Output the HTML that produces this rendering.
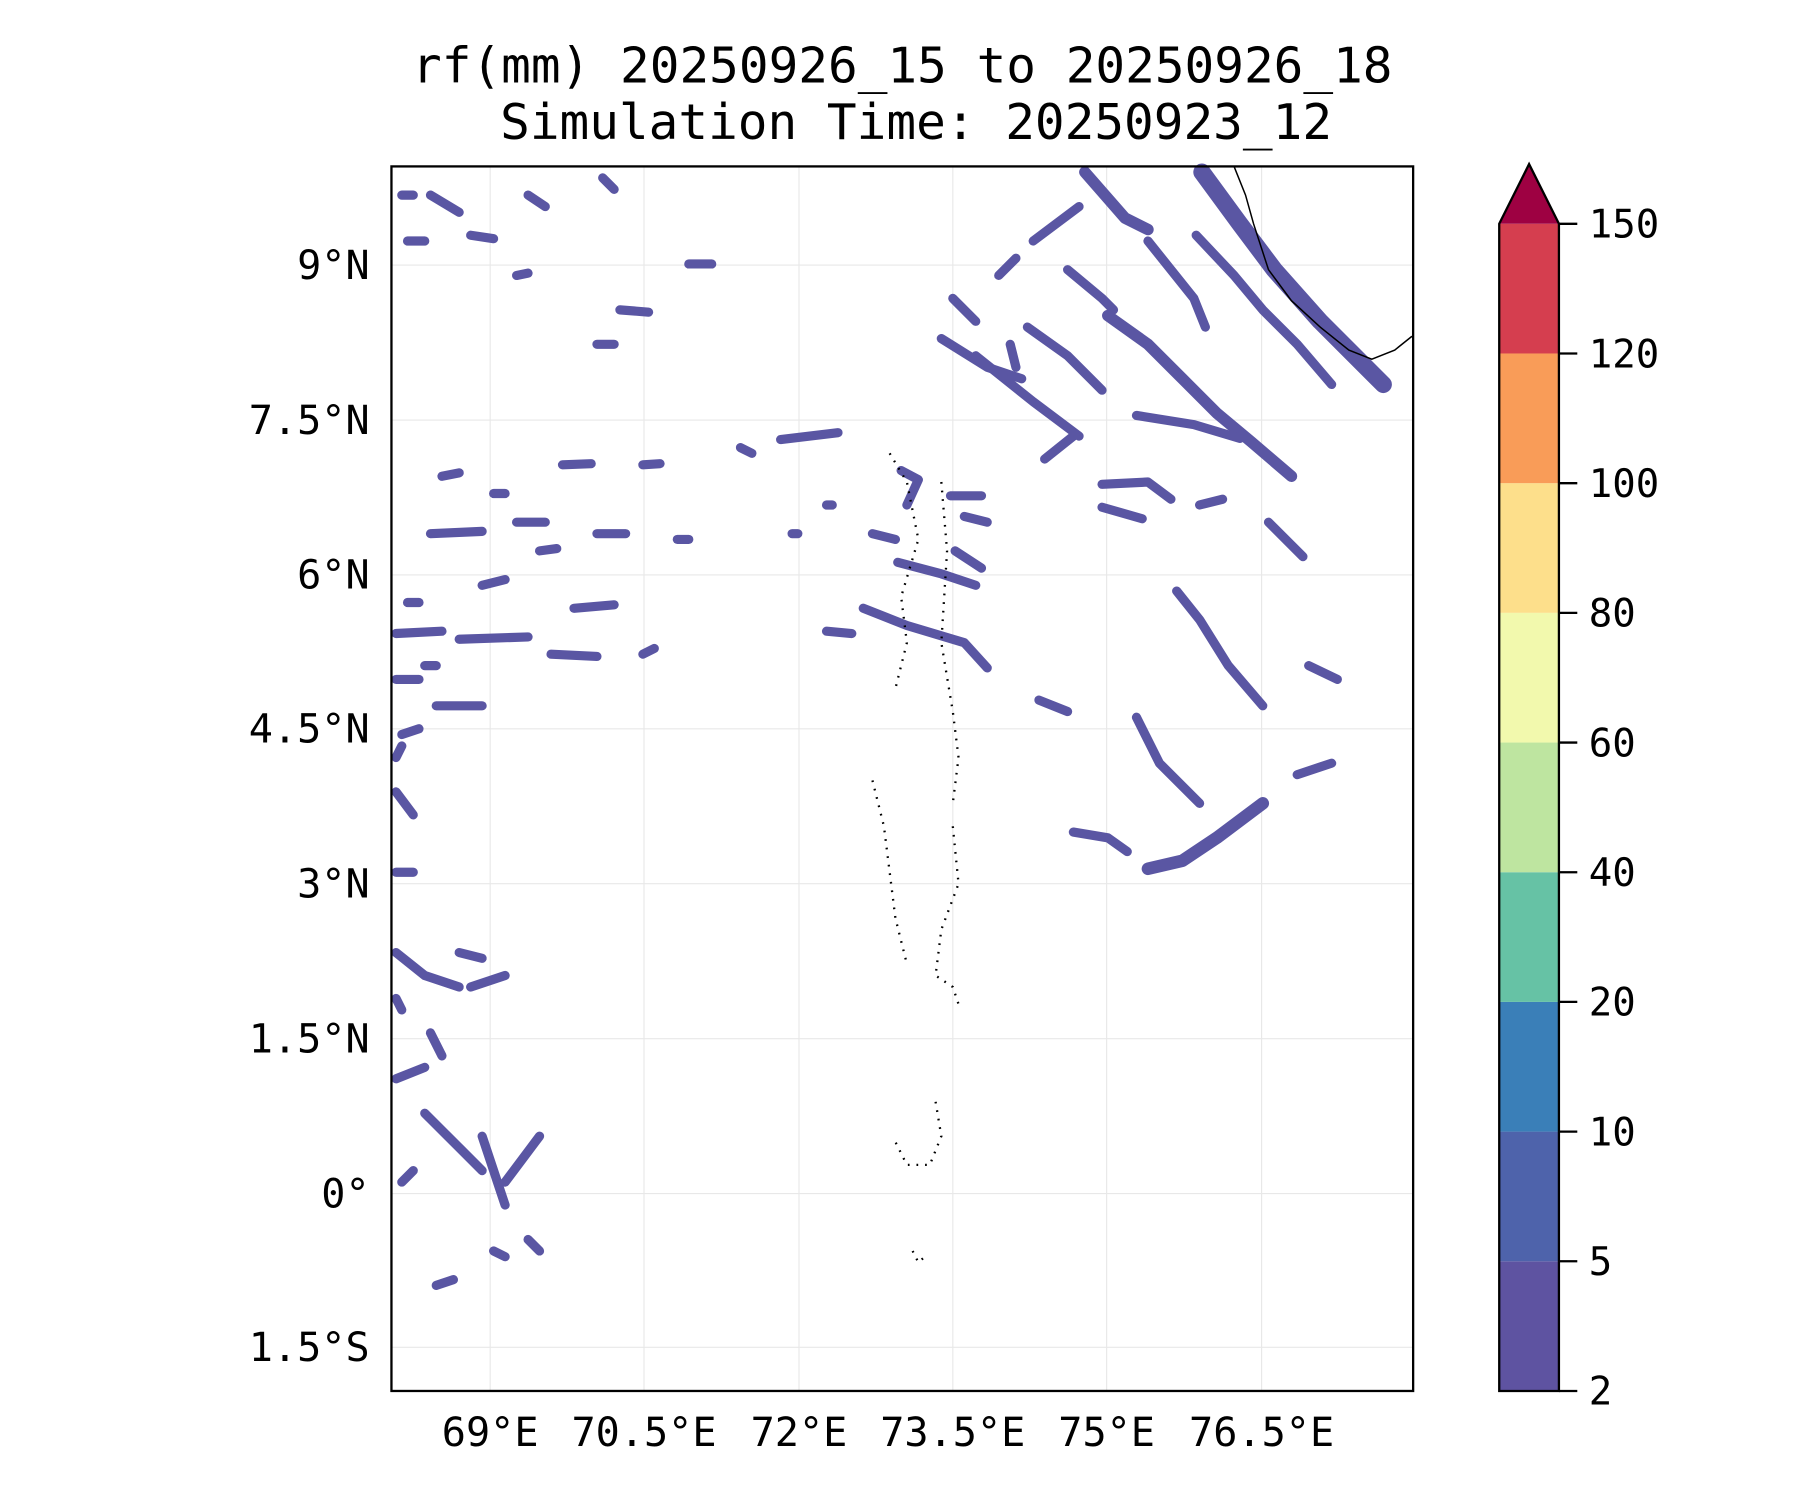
<!DOCTYPE html>
<html><head><meta charset="utf-8"><style>
html,body{margin:0;padding:0;background:#fff;}
svg{display:block}
text{font-family:"DejaVu Sans Mono","Liberation Mono",monospace;fill:#000}
</style></head><body>
<svg width="1800" height="1500" viewBox="0 0 1568 1307" preserveAspectRatio="none" xmlns="http://www.w3.org/2000/svg">
<rect width="1568" height="1307" fill="#fff"/>
<text x="786" y="72" font-size="43" text-anchor="middle">rf(mm) 20250926_15 to 20250926_18</text>
<text x="798" y="121" font-size="43" text-anchor="middle">Simulation Time: 20250923_12</text>
<g stroke="#e8e8e8" stroke-width="1">
<line x1="427" y1="145" x2="427" y2="1212"/><line x1="561" y1="145" x2="561" y2="1212"/>
<line x1="696" y1="145" x2="696" y2="1212"/><line x1="830" y1="145" x2="830" y2="1212"/>
<line x1="964" y1="145" x2="964" y2="1212"/><line x1="1099" y1="145" x2="1099" y2="1212"/>
<line x1="341" y1="231" x2="1231" y2="231"/><line x1="341" y1="366" x2="1231" y2="366"/>
<line x1="341" y1="501" x2="1231" y2="501"/><line x1="341" y1="635" x2="1231" y2="635"/>
<line x1="341" y1="770" x2="1231" y2="770"/><line x1="341" y1="905" x2="1231" y2="905"/>
<line x1="341" y1="1040" x2="1231" y2="1040"/><line x1="341" y1="1174" x2="1231" y2="1174"/>
</g>
<g fill="none" stroke="#5a56a3" stroke-linecap="round" stroke-linejoin="round" stroke-width="8">
<polyline points="945,150 980,190 1000,200" stroke-width="10"/>
<polyline points="1047,150 1080,195 1110,235 1150,280 1205,335" stroke-width="15"/>
<polyline points="1000,210 1040,260 1050,285"/>
<polyline points="1042,205 1075,240 1100,270 1130,300 1160,335"/>
<polyline points="930,235 960,260 970,270"/>
<polyline points="965,275 1000,300 1030,330 1060,360 1090,385 1125,415" stroke-width="10"/>
<polyline points="895,285 930,310 960,340"/>
<polyline points="830,260 850,280"/>
<polyline points="820,295 860,320 890,330"/>
<polyline points="850,310 900,350 940,380"/>
<polyline points="990,362 1040,370 1080,382"/>
<polyline points="960,422 1000,420 1020,435"/>
<polyline points="960,442 995,452"/>
<polyline points="782,490 820,500 850,510"/>
<polyline points="752,530 790,545 840,560 860,582"/>
<polyline points="720,550 742,552"/>
<polyline points="1025,515 1045,540 1070,580 1100,615"/>
<polyline points="990,625 1010,665 1045,700"/>
<polyline points="1000,757 1030,750 1060,730 1100,700" stroke-width="11"/>
<polyline points="935,725 965,730 982,742"/>
<polyline points="1140,580 1165,592"/>
<polyline points="1105,455 1135,485"/>
<polyline points="828,432 855,432"/>
<polyline points="832,480 855,495"/>
<polyline points="785,410 800,418 790,440"/>
<polyline points="900,210 940,180"/><polyline points="870,240 885,225"/><polyline points="910,400 935,380"/>
<polyline points="880,300 885,320"/><polyline points="905,610 930,620"/><polyline points="1130,675 1160,665"/>
<polyline points="1045,440 1065,435"/><polyline points="840,450 860,455"/>
<polyline points="345,552 385,550"/>
<polyline points="400,557 460,555"/>
<polyline points="375,465 420,463"/>
<polyline points="345,592 365,592"/>
<polyline points="380,615 420,615"/>
<polyline points="345,830 370,850 400,860"/>
<polyline points="345,690 360,710"/>
<polyline points="345,760 360,760"/>
<polyline points="375,900 385,920"/>
<polyline points="345,940 370,930"/>
<polyline points="370,970 400,1000 420,1020"/>
<polyline points="420,990 440,1050"/>
<polyline points="440,1030 470,990"/>
<polyline points="460,1080 470,1090"/>
<polyline points="350,1030 360,1020"/>
<polyline points="410,860 440,850"/><polyline points="345,870 350,880"/><polyline points="400,830 420,835"/>
<polyline points="430,1090 440,1095"/><polyline points="380,1120 395,1115"/><polyline points="345,660 350,650"/>
<polyline points="480,570 520,572"/><polyline points="420,510 440,505"/><polyline points="470,480 485,478"/>
<polyline points="520,465 545,465"/><polyline points="450,455 475,455"/><polyline points="540,270 565,272"/>
<polyline points="355,210 370,210"/><polyline points="410,205 430,208"/><polyline points="450,240 460,238"/>
<polyline points="375,170 400,185"/><polyline points="460,170 475,180"/><polyline points="490,405 515,404"/>
<polyline points="560,405 575,404"/><polyline points="600,230 620,230"/><polyline points="645,390 655,395"/>
<polyline points="680,383 730,377"/><polyline points="520,300 535,300"/><polyline points="560,570 570,565"/>
<polyline points="385,415 400,412"/><polyline points="350,170 360,170"/><polyline points="590,470 600,470"/>
<polyline points="500,530 535,527"/><polyline points="355,525 365,525"/><polyline points="350,640 365,635"/>
<polyline points="370,580 380,580"/><polyline points="430,430 440,430"/><polyline points="525,155 535,165"/>
<polyline points="760,465 780,470"/><polyline points="720,440 725,440"/><polyline points="690,465 695,465"/>
</g>
<g fill="none" stroke="#000" stroke-width="1.3">
<polyline points="1075,145 1085,170 1092,195 1105,235 1125,262 1150,285 1175,305 1195,313 1215,305 1230,293"/>
</g>
<g fill="none" stroke="#000" stroke-width="2" stroke-dasharray="1.5 6">
<polyline points="775,395 790,420 800,470 785,520 790,560 780,600"/>
<polyline points="820,420 825,480 820,560 830,620 835,660 830,700"/>
<polyline points="760,680 770,720 775,760 780,800 790,840"/>
<polyline points="830,720 835,770 820,810 815,850 830,860 835,875"/>
<polyline points="815,960 820,990 810,1015 790,1015 780,995"/>
<polyline points="795,1090 800,1100 808,1093"/>
</g>
<rect x="341" y="145" width="890" height="1067" fill="none" stroke="#000" stroke-width="2"/>
<g font-size="35" text-anchor="end">
<text x="322" y="243">9°N</text><text x="322" y="378">7.5°N</text><text x="322" y="513">6°N</text>
<text x="322" y="647">4.5°N</text><text x="322" y="782">3°N</text><text x="322" y="917">1.5°N</text>
<text x="322" y="1052">0°</text><text x="322" y="1186">1.5°S</text>
</g>
<g font-size="35" text-anchor="middle">
<text x="427" y="1260">69°E</text><text x="561" y="1260">70.5°E</text><text x="696" y="1260">72°E</text>
<text x="830" y="1260">73.5°E</text><text x="964" y="1260">75°E</text><text x="1099" y="1260">76.5°E</text>
</g>
<rect x="1306" y="1099" width="52" height="113" fill="#5e53a1"/>
<rect x="1306" y="986" width="52" height="113" fill="#4e63ab"/>
<rect x="1306" y="873" width="52" height="113" fill="#3a7fb8"/>
<rect x="1306" y="760" width="52" height="113" fill="#66c2a5"/>
<rect x="1306" y="647" width="52" height="113" fill="#bee5a0"/>
<rect x="1306" y="534" width="52" height="113" fill="#f2f9ad"/>
<rect x="1306" y="421" width="52" height="113" fill="#fddf8b"/>
<rect x="1306" y="308" width="52" height="113" fill="#f99c58"/>
<rect x="1306" y="195" width="52" height="113" fill="#d53e4f"/>
<polygon points="1306,195 1332,143 1358,195" fill="#9e0142"/>
<polygon points="1306,1212 1306,195 1332,143 1358,195 1358,1212" fill="none" stroke="#000" stroke-width="2"/>
<g stroke="#000" stroke-width="2">
<line x1="1358" y1="195" x2="1374" y2="195"/><line x1="1358" y1="308" x2="1374" y2="308"/>
<line x1="1358" y1="421" x2="1374" y2="421"/><line x1="1358" y1="534" x2="1374" y2="534"/>
<line x1="1358" y1="647" x2="1374" y2="647"/><line x1="1358" y1="760" x2="1374" y2="760"/>
<line x1="1358" y1="873" x2="1374" y2="873"/><line x1="1358" y1="986" x2="1374" y2="986"/>
<line x1="1358" y1="1099" x2="1374" y2="1099"/><line x1="1358" y1="1212" x2="1374" y2="1212"/>
</g>
<g font-size="34">
<text x="1384" y="207">150</text><text x="1384" y="320">120</text><text x="1384" y="433">100</text>
<text x="1384" y="546">80</text><text x="1384" y="659">60</text><text x="1384" y="772">40</text>
<text x="1384" y="885">20</text><text x="1384" y="998">10</text><text x="1384" y="1111">5</text>
<text x="1384" y="1224">2</text>
</g>
</svg>
</body></html>
